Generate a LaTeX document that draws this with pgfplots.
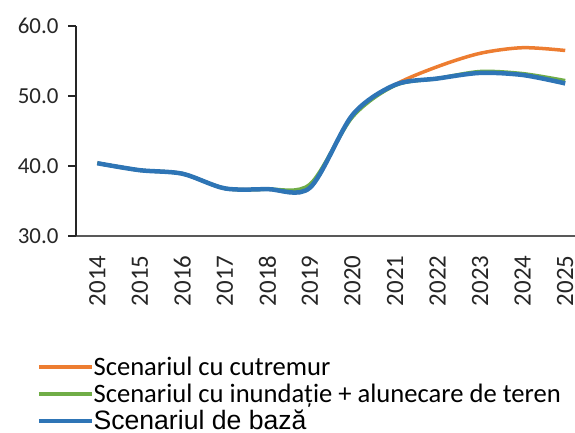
\documentclass[border=0pt]{standalone}
\usepackage{fontspec}
\setmainfont{Carlito}
\newfontfamily\arialf{Liberation Sans}
\usepackage{pgfplots}
\pgfplotsset{compat=1.18}
\definecolor{cOrange}{HTML}{ED7D31}
\definecolor{cGreen}{HTML}{70AD47}
\definecolor{cBlue}{HTML}{2E75B6}
\begin{document}
\begin{tikzpicture}
\useasboundingbox (0,0) rectangle (575bp,433bp);
\begin{axis}[
  at={(76bp,197bp)}, anchor=south west,
  scale only axis, width=499bp, height=210bp,
  xmin=2013.5, xmax=2025.23, ymin=30, ymax=60,
  axis x line*=bottom, axis y line*=left,
  x axis line style={draw=black!65, line width=2bp},
  y axis line style={draw=black!85, line width=1.2bp},
  xtick={2014,...,2025},
  xticklabels={2014,2015,2016,2017,2018,2019,2020,2021,2022,2023,2024,2025},
  xtick style={draw=none},
  ytick={30,40,50,60},
  ytick style={draw=black!85, line width=1.2bp},
  tick align=outside, major tick length=8bp,
  yticklabel={\pgfmathprintnumber[fixed,fixed zerofill,precision=1]{\tick}},
  /pgf/number format/assume math mode=true,
  tick label style={font=\fontsize{23}{26}\selectfont, text=black!85},
  yticklabel style={xshift=-6bp},
  xticklabel style={rotate=90, anchor=east, xshift=-8bp, font=\fontsize{25}{28}\selectfont},
  clip=false,
  legend style={
    at={(rel axis cs:-0.078,-0.567)}, anchor=north west,
    draw=none, fill=none, inner sep=0pt, outer sep=0pt,
    font=\fontsize{26.7}{30}\selectfont, row sep=-2.5bp,
    nodes={inner sep=0pt, outer sep=0pt, text height=20bp, text depth=9.5bp},
    /tikz/every even column/.append style={column sep=4bp},
  },
  legend cell align=left,
  legend image code/.code={\draw[#1,line width=3.5bp] (0bp,0.3em) -- (53bp,0.3em);},
]
\addplot[cOrange, line width=3.5bp, smooth, tension=0.5] coordinates {
(2014,40.4) (2015,39.4) (2016,38.9) (2017,36.8) (2018,36.7) (2019,36.9)
(2020,47.3) (2021,51.6) (2022,54.2) (2023,56.1) (2024,56.9) (2025,56.5)};
\addlegendentry{Scenariul cu cutremur}
\addplot[cGreen, line width=3.5bp, smooth, tension=0.5] coordinates {
(2014,40.4) (2015,39.4) (2016,38.9) (2017,36.8) (2018,36.7) (2019,37.4)
(2020,47.0) (2021,51.5) (2022,52.5) (2023,53.5) (2024,53.2) (2025,52.2)};
\addlegendentry{Scenariul cu inundație + alunecare de teren}
\addplot[cBlue, line width=4.5bp, smooth, tension=0.5] coordinates {
(2014,40.4) (2015,39.4) (2016,38.9) (2017,36.8) (2018,36.7) (2019,36.9)
(2020,47.3) (2021,51.6) (2022,52.5) (2023,53.3) (2024,53.0) (2025,51.8)};
\addlegendentry{\arialf Scenariul de bază}
\end{axis}
\end{tikzpicture}
\end{document}
